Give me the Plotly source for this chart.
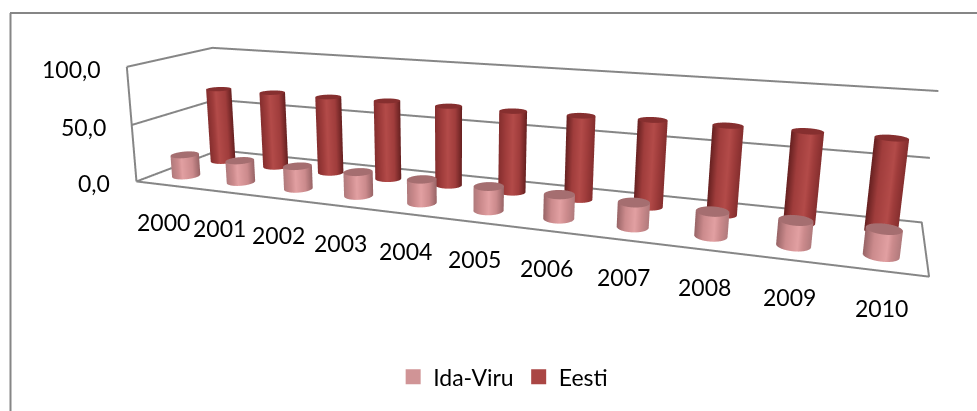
import numpy as np
import plotly.graph_objects as go

# ---- data ----
years = ["2000","2001","2002","2003","2004","2005","2006","2007","2008","2009","2010"]
ida_viru = [19,19,19.5,20,19.5,19.5,19,19,18.5,18.5,19]
eesti = [68,68.5,68.5,69,68.5,68.5,69,70,70,70.3,70]
value_ticks = [0,50,100]
value_labels = ["0,0","50,0","100,0"]

W,H = 977,411
GREY = "#868686"
FONT = "Lato"

# ---- chart-box calibration: (category, depth, value) -> where the Excel box corners sit ----
corners = np.array([[0,0,0,138,181],[0,1,0,217,151],[11,0,0,929,277],[11,1,0,922,222],
 [0,0,100,124,67],[0,1,100,215,48],[11,1,100,938,91],[0,0,50,133,125],[11,1,50,930,158],[0,1,50,215,99]],float)
def q(P):
    P=np.asarray(P,float).reshape(-1,3)
    return np.c_[P[:,0]/11,P[:,1],P[:,2]/100,np.ones(len(P))]
Q=q(corners[:,:3]); u=corners[:,3]/1000; v=corners[:,4]/1000
A=np.zeros((2*len(Q),12))
for i in range(len(Q)):
    A[2*i,0:4]=Q[i]; A[2*i,8:12]=-u[i]*Q[i]
    A[2*i+1,4:8]=Q[i]; A[2*i+1,8:12]=-v[i]*Q[i]
M=np.linalg.svd(A)[2][-1].reshape(3,4)
if (Q@M[2]).mean()<0: M=-M
M[:2]*=1000
F=(1/np.tan(np.pi/8))*H/2
D=3.0
M=M/(Q@M[2]).mean()*D
def place(x,y,z):
    """data -> scene coordinates, so that the fixed camera shows the box in perspective"""
    x=np.asarray(x,float);y=np.asarray(y,float);z=np.asarray(z,float)
    Q2=np.stack([x/11,y,z/100,np.ones_like(x)],-1)
    d=Q2@M[2]
    X=(Q2@M[0]-W/2*d)/F
    Z=-(Q2@M[1]-H/2*d)/F
    return X,d-D,Z
def screen_x(x,y,z):
    Q2=np.stack([x/11,y,z/100,np.ones_like(x)],-1)
    return (Q2@M[0])/(Q2@M[2])

fig=go.Figure()
def line(xs,ys,zs):
    X,Y,Z=place(xs,ys,zs)
    fig.add_trace(go.Scatter3d(x=X,y=Y,z=Z,mode="lines",line=dict(color=GREY,width=4),showlegend=False,hoverinfo="skip"))
# walls' gridlines
for t in value_ticks:
    line([0,0,11],[0,1,1],[t,t,t])
line([0,0],[0,0],[0,100])
line([0,11,11,0],[0,0,1,1],[0,0,0,0])

UNLIT=dict(ambient=1,diffuse=0,specular=0,roughness=1,fresnel=0)
def cylinder(i,depth,val,rx,ry,mid,light,top,edge,soft):
    th=np.linspace(0,2*np.pi,49)
    cx=i+.5
    x=cx+rx*np.cos(th); y=depth+ry*np.sin(th)
    xs=np.stack([x,x]);ys=np.stack([y,y]);zs=np.stack([np.zeros_like(x),np.full_like(x,val)])
    X,Y,Z=place(xs,ys,zs)
    sx=screen_x(xs,ys,zs)
    t=np.stack([(sx[k]-sx[k].min())/(sx[k].max()-sx[k].min()) for k in range(2)])
    p=.38+.24*i/10
    cs=[[0,edge if i>5 else soft],[.25,mid],[p,light],[.75,mid],[1,soft if i>5 else edge]]
    fig.add_trace(go.Surface(x=X,y=Y,z=Z,surfacecolor=t,cmin=0,cmax=1,colorscale=cs,showscale=False,lighting=UNLIT,hoverinfo="skip"))
    rr=np.array([0,1.0])
    xs=cx+rx*np.outer(rr,np.cos(th)); ys=depth+ry*np.outer(rr,np.sin(th)); zs=np.full_like(xs,val)
    X,Y,Z=place(xs,ys,zs)
    fig.add_trace(go.Surface(x=X,y=Y,z=Z,surfacecolor=np.zeros_like(xs),cmin=0,cmax=1,colorscale=[[0,top],[1,top]],showscale=False,lighting=UNLIT,hoverinfo="skip"))

for i,val in enumerate(eesti):
    cylinder(i,.72,val,.2,.09,"#a03d3c","#b34b49","#862f2f","#662020","#842e2e")
for i,val in enumerate(ida_viru):
    cylinder(i,.26,val,.205,.105,"#cc8b8d","#e2a0a2","#a56e70","#986466","#b07a7c")

# legend entries
for name,col in [("Ida-Viru","#d09496"),("Eesti","#aa4644")]:
    fig.add_trace(go.Scatter3d(x=[np.nan],y=[np.nan],z=[np.nan],mode="markers",name=name,
        marker=dict(symbol="square",size=15,color=col),hoverinfo="skip"))

anns=[]
for i,y in enumerate(years):
    X,Y,Z=place(i+.5,0,0)
    anns.append(dict(x=float(X),y=float(Y),z=float(Z),text=y,showarrow=False,xanchor="center",yanchor="middle",yshift=-37,
        font=dict(family=FONT,size=23,color="#000")))
for t,lab in zip(value_ticks,value_labels):
    X,Y,Z=place(0,0,t)
    anns.append(dict(x=float(X),y=float(Y),z=float(Z),text=lab,showarrow=False,xanchor="right",yanchor="middle",xshift=-24,yshift=-2,
        font=dict(family=FONT,size=23,color="#000")))

R=6
noax=dict(visible=False,range=[-R,R],autorange=False)
fig.update_layout(width=W,height=H,margin=dict(l=0,r=0,t=0,b=0,pad=0),paper_bgcolor="#fff",
    font=dict(family=FONT,size=23,color="#000"),
    scene=dict(domain=dict(x=[0,1],y=[0,1]),xaxis=noax,yaxis=noax,zaxis=noax,
        aspectmode="manual",aspectratio=dict(x=2*R,y=2*R,z=2*R),
        camera=dict(eye=dict(x=0,y=-D,z=0),center=dict(x=0,y=0,z=0),up=dict(x=0,y=0,z=1),projection=dict(type="perspective")),
        annotations=anns,bgcolor="#fff"),
    legend=dict(orientation="h",x=.515,y=.083,xanchor="center",yanchor="middle",font=dict(family=FONT,size=23),bgcolor="rgba(0,0,0,0)"),
    shapes=[dict(type="line",xref="paper",yref="paper",x0=10.5/W,x1=10.5/W,y0=0,y1=1-13/H,line=dict(color=GREY,width=2)),
            dict(type="line",xref="paper",yref="paper",x0=10/W,x1=1,y0=1-13/H,y1=1-13/H,line=dict(color=GREY,width=2))])
fig.write_html("out.html",config=dict(displayModeBar=False),post_script="document.body.style.margin='0';document.body.style.overflow='hidden';")
